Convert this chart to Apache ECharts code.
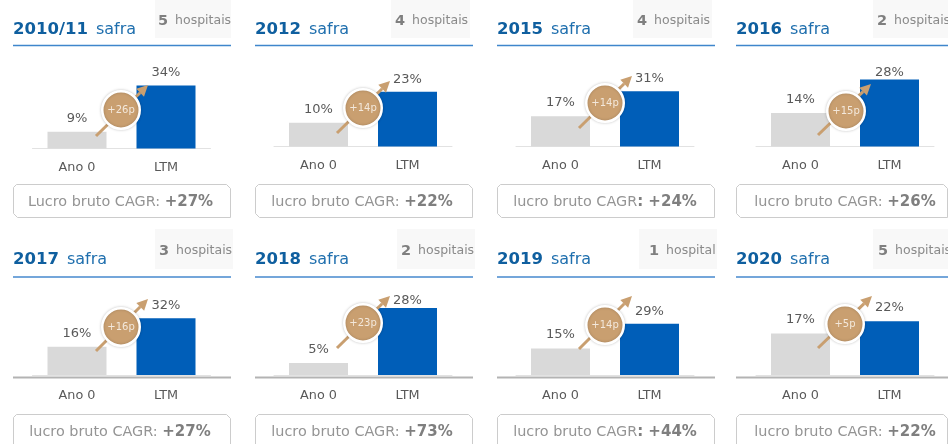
<!DOCTYPE html>
<html><head><meta charset="utf-8">
<style>html,body{margin:0;padding:0;background:#fff;overflow:hidden}#c{width:948px;height:444px}</style>
<script src="https://cdn.jsdelivr.net/npm/echarts@6/dist/echarts.min.js"></script></head>
<body><div id="c"></div>
<script>
// ---- data ----
const categories = ['Ano 0', 'LTM'];
const safras = ['2010/11', '2012', '2015', '2016', '2017', '2018', '2019', '2020'];
const ano0 = [9, 10, 17, 14, 16, 5, 15, 17];
const ltm = [34, 23, 31, 28, 32, 28, 29, 22];
const deltas = ['+26p', '+14p', '+14p', '+15p', '+16p', '+23p', '+14p', '+5p'];
const hospitalCount = [5, 4, 4, 2, 3, 2, 1, 5];
const hospitalWord = ['hospitais', 'hospitais', 'hospitais', 'hospitais', 'hospitais', 'hospitais', 'hospital', 'hospitais'];
const cagrLead = ['Lucro bruto CAGR: ', 'lucro bruto CAGR: ', 'lucro bruto CAGR', 'lucro bruto CAGR: ', 'lucro bruto CAGR: ', 'lucro bruto CAGR: ', 'lucro bruto CAGR', 'lucro bruto CAGR: '];
const cagrBold = ['+27%', '+22%', ': +24%', '+26%', '+27%', '+73%', ': +44%', '+22%'];

// ---- layout (pixels) ----
const ruleX = [[13,231],[255,473],[497,715],[736,948],[13,231],[255,473],[497,715],[736,948]];
const gridLeft = [32.5,274,516,756,32.5,274,516,756];
const baseY = [148.5,146.5,146.5,146.5,375,375,375,375];
const pxPerPct = [1.85,2.38,1.78,2.39,1.77,2.39,1.77,2.44];
const ltmGap = [6,6,6,0,6,1,6,7];
const tabBox = [[155,231],[391,470],[633,712],[873,948],[155,233],[397,475],[639,717],[873,948]];
const tabTextX = [158,395,637,877,159,401,649,878];
const badge = [[121,110],[363,108],[605,103],[846,111],[121,327],[363,323],[605,325],[845,324]];
const arrow = [[96,136,148,85],[337,133,390,81],[579,128,632,76],[818,135,871,84],[96,351,148,299],[337,348,390,296],[579,349,632,296],[818,348,872,296]];
const cagrX = [120.5,362,605,845,120,362,605,845];

const BLUE='#0f5f9f', TAN='#c99f70', FONT='"DejaVu Sans", Verdana, sans-serif';
const grids=[], xAxes=[], yAxes=[], series=[], gfx=[];

safras.forEach((s,i)=>{
  const row = i<4?0:1, H=100;
  grids.push({left:gridLeft[i],top:baseY[i]-H,width:178,height:H});
  xAxes.push({type:'category',gridIndex:i,data:categories,
    axisLine:{show:true,lineStyle:{color:'#e2e2e2',width:1}},axisTick:{show:false},
    axisLabel:{color:'#595959',fontSize:12.8,fontFamily:FONT,margin:row?14:13}});
  yAxes.push({type:'value',gridIndex:i,min:0,max:H/pxPerPct[i],show:false,splitLine:{show:false}});
  series.push({type:'bar',xAxisIndex:i,yAxisIndex:i,barWidth:59,silent:true,z:2,
    label:{show:true,position:'top',distance:7,formatter:'{c}%',color:'#595959',fontSize:13,fontFamily:FONT},
    data:[{value:ano0[i],itemStyle:{color:'#d9d9d9'}},
          {value:ltm[i],itemStyle:{color:'#005eb8'},label:{distance:ltmGap[i]}}]});

  // tab
  gfx.push({type:'rect',z:1,shape:{x:tabBox[i][0],y:row?229:0,width:tabBox[i][1]-tabBox[i][0],height:row?40:38},style:{fill:'#f8f8f8'}});
  gfx.push({type:'text',z:3,x:tabTextX[i],y:row?251:21,style:{
    text:'{b|'+hospitalCount[i]+'}{n|'+hospitalWord[i]+'}',verticalAlign:'middle',
    rich:{b:{fontFamily:FONT,fontWeight:'bold',fontSize:14.5,fill:'#7f7f7f',padding:[0,7,0,0]},n:{fontFamily:FONT,fontSize:12.5,fill:'#8a8a8a'}}}});
  // title
  gfx.push({type:'text',z:3,x:ruleX[i][0],y:row?260:30,style:{
    text:'{b|'+s+'}{n|safra}',verticalAlign:'middle',
    rich:{b:{fontFamily:FONT,fontWeight:'bold',fontSize:16.5,fill:BLUE,padding:[0,8,0,0]},n:{fontFamily:FONT,fontSize:16,fill:'#1f6fae'}}}});
  // rule
  gfx.push({type:'line',z:3,shape:{x1:ruleX[i][0],y1:row?277:45.5,x2:ruleX[i][1],y2:row?277:45.5},
    style:{stroke:row?'#74a6da':'#3f86cc',lineWidth:row?2:1.4}});
  if(row) gfx.push({type:'line',z:1,shape:{x1:ruleX[i][0],y1:377.5,x2:ruleX[i][1],y2:377.5},style:{stroke:'#b3b3b3',lineWidth:2}});
  // CAGR box
  const bx0=ruleX[i][0]+.5, bx1=ruleX[i][1]-.5, by0=row?414.5:184.5, by1=row?460:217.5, c=4;
  gfx.push({type:'polygon',z:1,shape:{points:[[bx0+3,by0],[bx1-c,by0],[bx1,by0+c],[bx1,by1],[bx0+c,by1],[bx0,by1-c],[bx0,by0+3]]},
    style:{fill:'#fff',stroke:'#cccccc',lineWidth:1}});
  gfx.push({type:'text',z:3,x:cagrX[i],y:row?432:202,style:{
    text:'{n|'+cagrLead[i]+'}{b|'+cagrBold[i]+'}',align:'center',verticalAlign:'middle',
    rich:{n:{fontFamily:FONT,fontSize:14.4,fill:'#949494'},b:{fontFamily:FONT,fontWeight:'bold',fontSize:15,fill:'#7f7f7f'}}}});
  // arrow
  const [ax,ay,bx,by]=arrow[i], ang=Math.atan2(by-ay,bx-ax), hl=11, hw=5.5;
  const nx=bx-hl*Math.cos(ang), ny=by-hl*Math.sin(ang), ox=-Math.sin(ang)*hw, oy=Math.cos(ang)*hw;
  gfx.push({type:'line',z:4,shape:{x1:ax,y1:ay,x2:nx,y2:ny},style:{stroke:TAN,lineWidth:3}});
  gfx.push({type:'polygon',z:4,shape:{points:[[bx,by],[nx+ox,ny+oy],[nx-ox,ny-oy]]},style:{fill:TAN}});
  // badge
  gfx.push({type:'circle',z:5,shape:{cx:badge[i][0],cy:badge[i][1],r:18.75},
    style:{fill:TAN,stroke:'#fff',lineWidth:2.5,shadowBlur:3,shadowColor:'rgba(0,0,0,.2)'}});
  gfx.push({type:'text',z:6,x:badge[i][0],y:badge[i][1],style:{text:deltas[i],align:'center',verticalAlign:'middle',
    fontFamily:FONT,fontSize:10,fill:'#f3e8db'}});
});

const chart=echarts.init(document.getElementById('c'),null,{renderer:'canvas'});
chart.setOption({animation:false,backgroundColor:'#fff',grid:grids,xAxis:xAxes,yAxis:yAxes,series:series,graphic:{elements:gfx}});
</script></body></html>
